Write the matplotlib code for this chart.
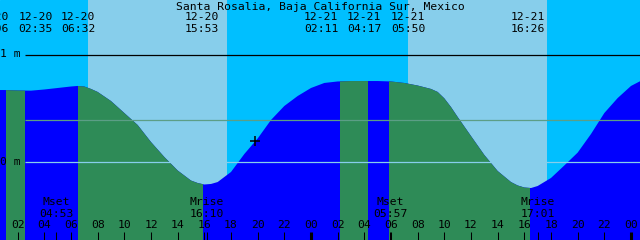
import numpy as np
import matplotlib.pyplot as plt
from matplotlib.patches import Rectangle

title = "Santa Rosalia, Baja California Sur, Mexico"

# tide level (m), hours from 12-20 00:00
hours = [0, 1, 2, 3, 4, 5, 6, 6.5, 7, 7.5, 8, 9,
         10, 11, 12, 13, 14, 15, 15.5, 16, 16.5, 17, 18, 19,
         20, 21, 22, 23, 24, 25, 26, 27, 28, 29,
         30, 31, 32, 33, 33.5, 34, 34.5, 35, 36, 37, 38, 39,
         39.5, 40, 40.5, 41, 42, 43, 44, 45, 46, 47, 48, 49]
level = [0.668, 0.668, 0.664, 0.662, 0.673, 0.687, 0.701, 0.706, 0.701, 0.678, 0.650, 0.565,
         0.453, 0.341, 0.182, 0.042, -0.084, -0.178, -0.201, -0.215, -0.210, -0.192, -0.098, 0.070,
         0.215, 0.388, 0.519, 0.612, 0.687, 0.734, 0.748, 0.752, 0.752, 0.752,
         0.748, 0.734, 0.710, 0.678, 0.650, 0.590, 0.509, 0.416, 0.238, 0.061, -0.089, -0.192,
         -0.224, -0.243, -0.248, -0.229, -0.154, -0.037, 0.083, 0.257, 0.453, 0.593, 0.706, 0.771]

# events along the top
event_dates = ["12-20", "12-20", "12-20", "12-20", "12-21", "12-21", "12-21", "12-21"]
event_times = ["01:06", "02:35", "06:32", "15:53", "02:11", "04:17", "05:50", "16:26"]
# green water between these pairs of events
green_spans = [(0, 1), (2, 3), (4, 5), (6, 7)]

# daylight (light sky)
day_spans = [("07:16", "17:42"), ("31:16", "41:42")]

moon_names = ["Mset", "Mrise", "Mset", "Mrise"]
moon_times = ["04:53", "16:10", "05:57", "17:01"]
moon_days = [0, 0, 1, 1]

datum_levels = [1.0, 0.388, 0.0]
now_hour = 19.77
now_level = 0.187


def to_h(s, day=0):
    hh, mm = s.split(":")
    return day * 24 + int(hh) + int(mm) / 60


event_h = [to_h(t, 0 if d == "12-20" else 1) for d, t in zip(event_dates, event_times)]
moon_h = [to_h(t, d) for t, d in zip(moon_times, moon_days)]

# pixel layout
W, H = 640, 240
px_per_h = 320 / 24
x0 = -9  # pixel of 12-20 00:00
zero_py = 161.5
px_per_m = 107

fig = plt.figure(figsize=(6.4, 2.4), dpi=100)
ax = fig.add_axes([0, 0, 1, 1])
ax.set_axis_off()
ax.set_xlim(-x0 / px_per_h, (W - x0) / px_per_h)
ax.set_ylim((zero_py - H) / px_per_m, zero_py / px_per_m)
ax.add_patch(Rectangle((0, 0), 1, 1, transform=ax.transAxes, color="#00BFFF", zorder=0))

for a, b in day_spans:
    ax.axvspan(to_h(a), to_h(b), color="#87CEEB", lw=0, zorder=1)

bottom = ax.get_ylim()[0]
ax.fill_between(hours, level, bottom, color="#0000FF", lw=0, zorder=2)
for i, j in green_spans:
    f = ax.fill_between(hours, level, bottom, color="#2E8B57", lw=0, zorder=3)
    clip = Rectangle((event_h[i], bottom), event_h[j] - event_h[i], 5,
                     transform=ax.transData)
    f.set_clip_path(clip)

xstart = (25 - x0) / px_per_h
xend = ax.get_xlim()[1]
ax.hlines(datum_levels, xstart, xend, colors=["black", "#5c9e86", "#87CEEB"],
          lw=0.9, zorder=4)

ax.plot([now_hour], [now_level], marker="+", color="black", ms=7, mew=1.1, zorder=6)

font = dict(family="DejaVu Sans Mono", size=8.2)
tx = ax.get_xaxis_transform()


def fy(py):
    return 1 - py / H


ax.text(0.5, fy(7), title, transform=ax.transAxes, ha="center", va="center", **font)

label_shift = [-14, 10, 0, -1, -19, -4, 19.5, -2]
for h, d, t, s in zip(event_h, event_dates, event_times, label_shift):
    xh = h + s / px_per_h
    ax.text(xh, fy(17), d, transform=tx, ha="center", va="center", **font)
    ax.text(xh, fy(29), t, transform=tx, ha="center", va="center", **font)

ax.text(21 / W, fy(54), "1 m", transform=ax.transAxes, ha="right", va="center", **font)
ax.text(21 / W, fy(162), "0 m", transform=ax.transAxes, ha="right", va="center", **font)

# bottom ticks
tick_h = np.arange(2, 49, 2)
for h in tick_h:
    lw = 2.2 if h % 24 == 0 else 0.75
    ax.plot([h, h], [fy(232), 0], transform=tx, color="black", lw=lw,
            solid_capstyle="butt", zorder=5)
    ax.text(h, fy(225.5), f"{h % 24:02d}", transform=tx, ha="center", va="center", **font)

for h, n, t in zip(moon_h, moon_names, moon_times):
    ax.plot([h, h], [fy(232), 0], transform=tx, color="black", lw=0.75,
            solid_capstyle="butt", zorder=5)
    ax.text(h, fy(202), n, transform=tx, ha="center", va="center", **font)
    ax.text(h, fy(214), t, transform=tx, ha="center", va="center", **font)

fig.savefig("out.png", dpi=100)
